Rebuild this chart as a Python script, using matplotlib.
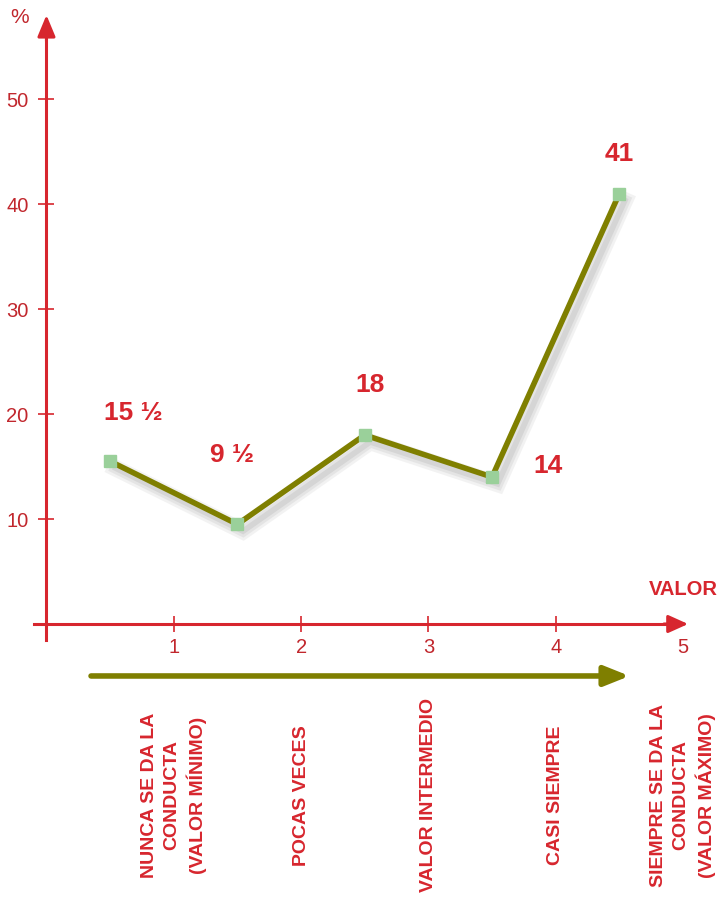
import matplotlib
matplotlib.use("Agg")
import matplotlib.pyplot as plt
import matplotlib.patheffects as pe

plt.rcParams['font.family'] = ['Liberation Sans', 'DejaVu Sans']

# data
x = [0.5, 1.5, 2.5, 3.5, 4.5]
values = [15.5, 9.5, 18, 14, 41]
value_labels = ["15 \u00bd", "9 \u00bd", "18", "14", "41"]
label_offsets = [(23, 48), (-5, 69), (5, 50), (56, 11), (0, 40)]  # pixels
categories = ["NUNCA SE DA LA\nCONDUCTA\n(VALOR MÍNIMO)",
              "POCAS VECES",
              "VALOR INTERMEDIO",
              "CASI SIEMPRE",
              "SIEMPRE SE DA LA\nCONDUCTA\n(VALOR MÁXIMO)"]
cat_pos = [1, 2, 3, 4, 5]
yticks = [10, 20, 30, 40, 50]

red = "#d7262e"
dark_red = "#c1272d"
olive = "#7f7f00"
green = "#9ad09a"

fig = plt.figure(figsize=(7.24, 8.97), dpi=100)
ax = fig.add_axes([0, 0, 1, 1])
ax.set_xlim(-0.365, 5.322)
ax.set_ylim(-26.0, 59.43)

for s in ['top', 'right']:
    ax.spines[s].set_visible(False)
ax.spines['left'].set_position(('data', 0))
ax.spines['bottom'].set_position(('data', 0))
ax.spines['left'].set_bounds(-1.5, 56)
ax.spines['bottom'].set_bounds(-0.1, 4.9)
for s in ['left', 'bottom']:
    ax.spines[s].set_color(red)
    ax.spines[s].set_linewidth(2.2)

ax.set_xticks(cat_pos)
ax.set_xticklabels([str(c) for c in cat_pos])
ax.set_yticks(yticks)
ax.tick_params(axis='both', direction='inout', length=12, width=1.2,
               color=red, labelcolor=dark_red, labelsize=14.5)
ax.tick_params(axis='x', pad=4)
ax.tick_params(axis='y', pad=7)
ax.xaxis.get_major_ticks()[-1].tick1line.set_visible(False)

# axis arrow heads
ax.annotate('', xy=(0, 58.0), xytext=(0, 55.5),
            arrowprops=dict(arrowstyle='-|>,head_length=0.65,head_width=0.27',
                            color=red, lw=2.2, mutation_scale=20,
                            shrinkA=0, shrinkB=0))
ax.annotate('', xy=(5.04, 0), xytext=(4.85, 0),
            arrowprops=dict(arrowstyle='-|>,head_length=0.6,head_width=0.27',
                            color=red, lw=2.2, mutation_scale=20,
                            shrinkA=0, shrinkB=0))

ax.text(-0.21, 57.8, "%", color=dark_red, fontsize=15, ha='center', va='center')
ax.text(5.0, 3.3, "VALOR", color=red, fontsize=14.5, fontweight='bold',
        ha='center', va='center')

# data line with soft shadow
shadow = [pe.SimpleLineShadow(offset=(4, -5), shadow_color='#999999', alpha=0.12, linewidth=12),
          pe.SimpleLineShadow(offset=(4, -5), shadow_color='#999999', alpha=0.15, linewidth=8),
          pe.SimpleLineShadow(offset=(4, -5), shadow_color='#999999', alpha=0.2, linewidth=4),
          pe.Normal()]
ax.plot(x, values, color=olive, linewidth=4, zorder=3, path_effects=shadow,
        solid_joinstyle='miter')
ax.plot(x, values, linestyle='none', marker='s', markersize=9,
        color=green, zorder=4)

for xi, yi, lab, off in zip(x, values, value_labels, label_offsets):
    ax.annotate(lab, xy=(xi, yi), xytext=off, textcoords='offset pixels',
                color=red, fontsize=19, fontweight='bold',
                ha='center', va='center')

# olive arrow under the axis
ax.annotate('', xy=(4.58, -4.95), xytext=(0.35, -4.95),
            arrowprops=dict(arrowstyle='-|>,head_length=0.75,head_width=0.3',
                            color=olive, lw=4, mutation_scale=20,
                            shrinkA=0, shrinkB=0))

for cp, cat in zip(cat_pos, categories):
    ax.text(cp, -16.3, cat, rotation=90, color=red, fontsize=14,
            fontweight='bold', ha='center', va='center',
            multialignment='center', linespacing=1.4)

fig.savefig("out.png", dpi=100)
